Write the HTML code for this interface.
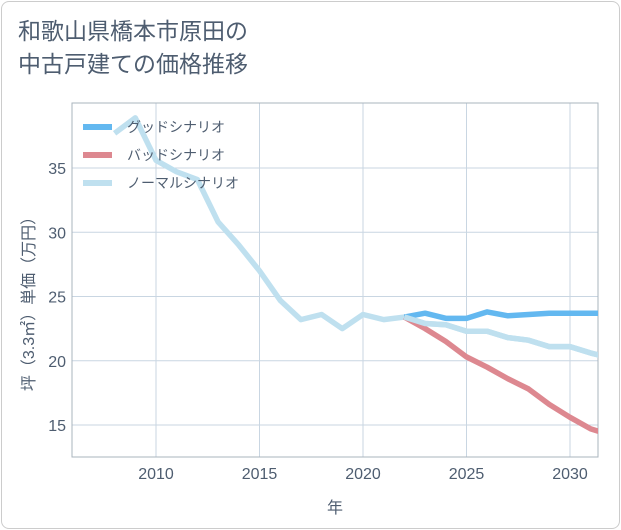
<!DOCTYPE html>
<html><head><meta charset="utf-8">
<style>
html,body{margin:0;padding:0;background:#fff;}
body{width:621px;height:530px;overflow:hidden;font-family:"Liberation Sans","Noto Sans CJK JP",sans-serif;}
.card{position:absolute;left:1px;top:1px;width:617px;height:526px;border:1px solid #ccc;border-radius:8px;background:#fff;}
.title{position:absolute;left:18px;top:15px;font-size:23px;line-height:33px;color:#4e5d70;}
</style></head>
<body>
<div class="card"></div>
<div class="title">和歌山県橋本市原田の<br>中古戸建ての価格推移</div>
<svg id="chart" width="621" height="530" style="position:absolute;left:0;top:0"></svg>
<script>
const years=[2008,2009,2010,2011,2012,2013,2014,2015,2016,2017,2018,2019,2020,2021,2022,2023,2024,2025,2026,2027,2028,2029,2030,2031,2032];
const normal=[37.7,38.9,35.6,34.7,34.1,30.8,29,27,24.7,23.2,23.6,22.5,23.6,23.2,23.4,22.9,22.8,22.3,22.3,21.8,21.6,21.1,21.1,20.6,20.2];
const goodYears=[2022,2023,2024,2025,2026,2027,2028,2029,2030,2031,2032];
const good=[23.4,23.7,23.3,23.3,23.8,23.5,23.6,23.7,23.7,23.7,23.7];
const bad=[23.4,22.5,21.5,20.3,19.5,18.6,17.8,16.6,15.6,14.7,14.2];
const xTicks=[2010,2015,2020,2025,2030];
const yTicks=[15,20,25,30,35];
const L=72,R=598,T=103,B=457;
const x=v=>156+(v-2010)*20.7;
const y=v=>168+(35-v)*12.85;
const NS="http://www.w3.org/2000/svg";
const TC='#4e5d70';
const svg=document.getElementById('chart');
function mk(t,a,p){const e=document.createElementNS(NS,t);for(const k in a)e.setAttribute(k,a[k]);(p||svg).appendChild(e);return e;}
const defs=mk('defs',{});const cp=mk('clipPath',{id:'cp'},defs);mk('rect',{x:L,y:T,width:R-L,height:B-T},cp);
xTicks.forEach(v=>{
 const g=mk('line',{x1:x(v),x2:x(v),y1:T,y2:B,stroke:'#c9d6e2','stroke-width':1});
 
 
 const t=mk('text',{x:x(v),y:479,'text-anchor':'middle','font-size':16,fill:TC});t.textContent=v;
 
 
});
yTicks.forEach(v=>{
 const g=mk('line',{x1:L,x2:R,y1:y(v),y2:y(v),stroke:'#c9d6e2','stroke-width':1});
 
 
 const t=mk('text',{x:66,y:y(v)+6,'text-anchor':'end','font-size':16,fill:TC});t.textContent=v;
 
 
});
const fr=mk('rect',{x:L,y:T,width:R-L,height:B-T,fill:'none',stroke:'#aab4be','stroke-width':1});


function line(xs,vs,col,name){
 const p=mk('polyline',{points:xs.map((v,i)=>x(v)+','+y(vs[i])).join(' '),fill:'none',stroke:col,'stroke-width':5.5,'stroke-linejoin':'round','clip-path':'url(#cp)'});
 
 
}
line(years,normal,'#bfe0ef','normal-scenario-line');
line(goodYears,bad,'#dd8890','bad-scenario-line');
line(goodYears,good,'#63b8f0','good-scenario-line');
line(years.slice(14),normal.slice(14),'#bfe0ef','normal-scenario-line-front');
const leg=[['グッドシナリオ','#63b8f0',127],['バッドシナリオ','#dd8890',155],['ノーマルシナリオ','#bfe0ef',183]];
leg.forEach(l=>{
 const s=mk('line',{x1:83,x2:112,y1:l[2],y2:l[2],stroke:l[1],'stroke-width':6});
 
 
 const t=mk('text',{x:127,y:l[2]+5,'font-size':14,fill:TC});t.textContent=l[0];
 
 
});
const xt=mk('text',{x:335,y:513,'text-anchor':'middle','font-size':16,fill:TC});xt.textContent='年';


const yt=mk('text',{x:0,y:0,'text-anchor':'middle','font-size':16,fill:TC,transform:'translate(34,300) rotate(-90)'});yt.textContent='坪（3.3㎡）単価（万円）';


</script>
</body></html>
